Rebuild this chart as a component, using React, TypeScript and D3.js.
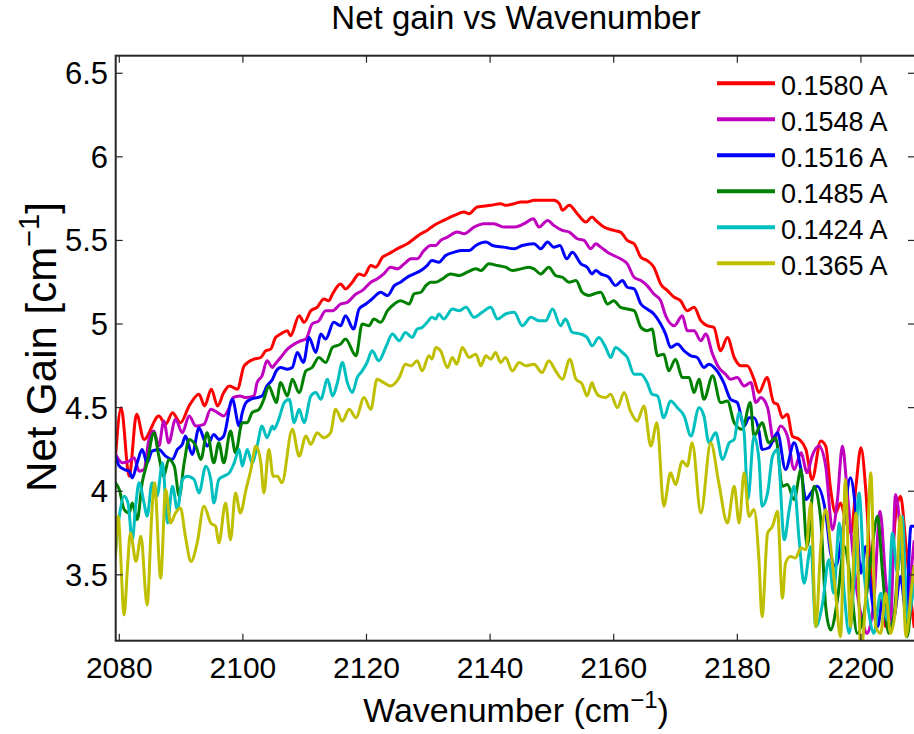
import React from 'react';
import * as d3 from 'd3';

type Pt = [number, number];

const xTicks = [2080, 2100, 2120, 2140, 2160, 2180, 2200];
const yTicks = [3.5, 4, 4.5, 5, 5.5, 6, 6.5];
const yTickLabels = ['3.5', '4', '4.5', '5', '5.5', '6', '6.5'];
const seriesLabels = ['0.1580 A', '0.1548 A', '0.1516 A', '0.1485 A', '0.1424 A', '0.1365 A'];
const seriesColors = ['#ff0000', '#bf00bf', '#0000ff', '#008000', '#00bfbf', '#bfbf00'];

const s1580: Pt[] = [
  [2079.4,4.21],[2080.3,4.50],[2081.6,4.09],[2082.8,4.46],[2084.0,4.31],[2086.4,4.45],[2087.5,4.40],[2088.6,4.47],[2089.9,4.41],[2091.3,4.51],[2092.9,4.58],[2093.8,4.51],[2094.9,4.61],[2095.9,4.51],[2096.9,4.59],[2097.8,4.63],[2099.1,4.61],[2100.2,4.75],[2101.8,4.79],[2102.9,4.80],[2103.7,4.84],[2104.5,4.85],[2105.3,4.92],[2106.1,4.94],[2107.2,4.96],[2107.7,4.93],[2109.1,5.05],[2109.9,5.01],[2111.0,5.08],[2112.0,5.10],[2113.1,5.15],[2113.9,5.14],[2114.5,5.18],[2115.8,5.24],[2116.6,5.21],[2117.7,5.25],[2118.8,5.30],[2119.6,5.29],[2120.7,5.35],[2121.5,5.34],[2122.6,5.40],[2123.6,5.42],[2124.5,5.44],[2125.5,5.46],[2126.6,5.48],[2127.7,5.51],[2128.8,5.54],[2129.8,5.56],[2130.9,5.59],[2132.5,5.62],[2134.2,5.65],[2135.8,5.67],[2136.6,5.66],[2137.9,5.70],[2140.1,5.71],[2141.7,5.72],[2142.5,5.71],[2143.9,5.72],[2145.0,5.73],[2146.0,5.73],[2147.1,5.74],[2148.7,5.74],[2150.3,5.74],[2151.2,5.72],[2151.7,5.68],[2152.8,5.71],[2154.1,5.66],[2155.5,5.61],[2156.5,5.64],[2157.1,5.62],[2158.4,5.58],[2160.0,5.56],[2161.1,5.55],[2162.2,5.50],[2163.3,5.48],[2164.4,5.40],[2165.4,5.38],[2166.5,5.34],[2167.6,5.24],[2168.7,5.20],[2169.8,5.16],[2170.8,5.14],[2171.9,5.08],[2173.0,5.10],[2174.1,5.02],[2175.1,4.99],[2176.2,4.98],[2177.3,4.84],[2178.4,4.92],[2179.5,4.80],[2180.6,4.75],[2181.6,4.75],[2182.7,4.67],[2183.5,4.59],[2184.8,4.68],[2185.9,4.53],[2186.5,4.52],[2187.3,4.44],[2188.1,4.46],[2188.9,4.33],[2190.0,4.31],[2191.1,4.25],[2192.1,4.07],[2193.5,4.30],[2194.3,4.27],[2195.1,4.01],[2195.9,3.87],[2196.7,3.93],[2197.5,3.83],[2198.4,3.75],[2199.2,4.03],[2200.0,4.26],[2200.8,4.00],[2201.6,3.51],[2202.4,3.27],[2203.2,3.35],[2204.0,3.19],[2204.8,3.39],[2205.6,3.85],[2206.4,3.97],[2207.3,3.67],[2208.1,3.35],[2208.6,3.19]
];

const s1548: Pt[] = [
  [2079.4,4.22],[2080.5,4.17],[2081.6,4.18],[2082.4,4.20],[2083.2,4.12],[2084.0,4.13],[2084.8,4.31],[2085.6,4.36],[2086.4,4.27],[2087.2,4.42],[2088.0,4.29],[2089.1,4.43],[2090.2,4.35],[2091.3,4.45],[2092.4,4.39],[2093.7,4.40],[2094.8,4.49],[2095.9,4.47],[2096.9,4.45],[2097.8,4.50],[2098.4,4.56],[2099.5,4.57],[2100.5,4.56],[2101.8,4.57],[2102.3,4.65],[2103.1,4.69],[2103.9,4.78],[2104.8,4.74],[2105.0,4.75],[2106.1,4.80],[2107.2,4.85],[2108.3,4.88],[2109.4,4.90],[2110.2,4.91],[2111.2,5.00],[2112.3,5.02],[2113.4,5.08],[2114.5,5.08],[2115.8,5.12],[2116.9,5.13],[2118.3,5.18],[2119.3,5.20],[2120.7,5.25],[2121.7,5.27],[2122.8,5.30],[2123.9,5.34],[2125.0,5.33],[2126.1,5.36],[2127.2,5.39],[2128.2,5.39],[2129.3,5.44],[2130.4,5.47],[2131.2,5.47],[2132.0,5.50],[2133.1,5.52],[2134.7,5.55],[2135.8,5.54],[2137.4,5.58],[2139.0,5.60],[2140.6,5.60],[2142.2,5.58],[2143.9,5.58],[2145.5,5.60],[2147.0,5.63],[2147.9,5.58],[2149.3,5.62],[2150.3,5.59],[2151.7,5.56],[2152.8,5.55],[2154.1,5.51],[2155.2,5.50],[2156.3,5.45],[2157.1,5.48],[2157.9,5.46],[2159.0,5.43],[2160.0,5.41],[2161.1,5.39],[2162.2,5.36],[2163.3,5.28],[2164.4,5.26],[2165.4,5.23],[2166.5,5.18],[2167.6,5.14],[2168.4,5.05],[2169.8,4.99],[2171.1,5.05],[2171.9,4.96],[2173.0,4.96],[2174.1,4.90],[2174.9,4.94],[2176.0,4.82],[2177.0,4.74],[2178.1,4.70],[2178.9,4.67],[2180.0,4.68],[2181.1,4.63],[2182.2,4.65],[2183.0,4.53],[2183.8,4.56],[2184.9,4.50],[2185.9,4.30],[2187.0,4.39],[2188.1,4.33],[2189.2,4.13],[2190.3,4.23],[2191.3,4.11],[2192.1,4.21],[2193.2,4.27],[2194.3,4.15],[2195.4,3.77],[2196.2,3.95],[2197.0,4.27],[2197.8,3.99],[2198.6,3.67],[2199.4,3.39],[2200.2,3.23],[2201.0,3.15],[2202.1,3.35],[2203.1,3.88],[2204.0,3.47],[2204.8,3.23],[2205.6,3.98],[2206.4,3.75],[2207.3,3.27],[2208.1,3.51],[2208.6,3.70]
];

const s1516: Pt[] = [
  [2079.4,4.21],[2080.0,4.15],[2080.8,4.13],[2081.6,4.12],[2082.1,4.08],[2082.9,4.17],[2083.7,4.25],[2084.5,4.17],[2085.3,4.24],[2086.4,4.25],[2087.5,4.21],[2088.6,4.19],[2089.4,4.25],[2090.2,4.28],[2090.7,4.33],[2091.8,4.22],[2092.9,4.38],[2093.7,4.31],[2094.2,4.27],[2095.3,4.34],[2096.1,4.31],[2096.9,4.33],[2098.3,4.55],[2099.4,4.39],[2099.9,4.47],[2100.5,4.53],[2101.3,4.55],[2102.3,4.56],[2103.1,4.57],[2103.9,4.63],[2104.8,4.67],[2105.4,4.72],[2106.1,4.74],[2107.2,4.73],[2108.0,4.74],[2108.8,4.83],[2109.8,4.77],[2110.7,4.92],[2111.8,4.83],[2112.6,4.94],[2113.4,4.91],[2114.7,5.01],[2115.8,4.99],[2116.6,5.05],[2117.9,4.97],[2118.8,5.09],[2119.9,5.12],[2120.9,5.15],[2122.3,5.19],[2123.4,5.17],[2124.5,5.23],[2125.5,5.25],[2126.6,5.28],[2127.7,5.30],[2128.8,5.32],[2129.8,5.35],[2130.6,5.38],[2131.7,5.37],[2132.8,5.41],[2134.2,5.43],[2135.5,5.44],[2136.6,5.44],[2137.7,5.47],[2139.3,5.49],[2140.4,5.47],[2142.2,5.46],[2143.9,5.45],[2145.2,5.47],[2147.1,5.48],[2148.2,5.45],[2149.3,5.49],[2150.3,5.46],[2151.3,5.47],[2152.4,5.39],[2153.3,5.43],[2154.7,5.36],[2155.7,5.34],[2156.5,5.30],[2157.1,5.32],[2157.9,5.30],[2159.2,5.28],[2160.3,5.23],[2161.4,5.26],[2162.2,5.22],[2163.3,5.21],[2164.4,5.12],[2165.4,5.09],[2166.5,5.06],[2167.6,5.00],[2168.4,4.94],[2169.2,4.86],[2170.3,4.88],[2171.4,4.84],[2172.5,4.81],[2173.5,4.80],[2174.6,4.74],[2175.4,4.76],[2176.5,4.73],[2177.8,4.65],[2178.9,4.55],[2180.0,4.53],[2181.1,4.39],[2181.9,4.44],[2182.7,4.44],[2183.5,4.36],[2184.0,4.25],[2185.1,4.26],[2186.5,4.35],[2187.8,4.13],[2189.2,4.29],[2190.3,4.13],[2191.1,3.95],[2191.9,3.99],[2192.9,4.03],[2194.3,3.87],[2195.1,3.63],[2195.9,3.55],[2197.0,3.75],[2198.3,4.08],[2199.2,3.87],[2200.0,3.51],[2200.8,3.67],[2201.8,3.35],[2202.7,3.19],[2203.5,3.35],[2204.3,3.19],[2205.4,3.25],[2206.4,3.49],[2207.3,3.27],[2208.1,3.79],[2208.6,3.79]
];

const s1485: Pt[] = [
  [2079.4,4.05],[2080.0,4.01],[2080.8,3.89],[2081.6,3.87],[2082.1,3.93],[2082.9,3.83],[2083.7,4.05],[2084.5,4.17],[2085.6,4.35],[2086.4,4.21],[2087.2,4.09],[2088.0,4.19],[2088.9,4.15],[2089.7,3.97],[2090.5,4.17],[2091.3,4.31],[2092.4,4.27],[2093.2,4.19],[2094.2,4.35],[2095.3,4.17],[2096.1,4.29],[2096.9,4.17],[2098.0,4.36],[2098.8,4.23],[2099.9,4.41],[2100.7,4.41],[2101.5,4.47],[2102.6,4.49],[2103.4,4.55],[2104.2,4.63],[2104.9,4.57],[2105.4,4.53],[2106.1,4.65],[2107.2,4.57],[2108.0,4.67],[2109.1,4.59],[2110.2,4.72],[2111.2,4.74],[2112.3,4.80],[2113.4,4.77],[2114.5,4.86],[2115.8,4.88],[2116.6,4.91],[2118.3,4.81],[2119.3,5.00],[2120.4,4.99],[2121.2,5.03],[2122.3,5.01],[2123.4,5.08],[2124.5,5.12],[2125.5,5.14],[2126.9,5.12],[2127.7,5.18],[2128.8,5.19],[2129.6,5.23],[2130.4,5.25],[2131.2,5.25],[2132.3,5.27],[2133.6,5.30],[2135.0,5.29],[2136.3,5.31],[2137.7,5.33],[2138.5,5.32],[2139.8,5.36],[2141.2,5.35],[2142.5,5.34],[2143.6,5.32],[2145.0,5.33],[2146.3,5.34],[2147.1,5.33],[2148.2,5.30],[2149.5,5.34],[2150.6,5.29],[2151.7,5.28],[2152.8,5.25],[2153.9,5.26],[2154.9,5.19],[2156.0,5.17],[2156.8,5.18],[2157.9,5.19],[2159.0,5.12],[2160.0,5.14],[2161.1,5.10],[2162.2,5.09],[2163.3,5.08],[2164.4,4.98],[2165.4,4.96],[2166.2,4.97],[2167.1,4.81],[2168.1,4.82],[2168.9,4.72],[2170.0,4.79],[2171.1,4.68],[2172.2,4.68],[2173.0,4.59],[2173.8,4.67],[2174.6,4.55],[2176.0,4.69],[2177.3,4.53],[2178.4,4.54],[2179.5,4.41],[2180.8,4.37],[2182.1,4.53],[2182.7,4.33],[2184.0,4.41],[2185.1,4.29],[2186.2,4.32],[2187.3,4.03],[2188.1,4.04],[2189.2,3.95],[2190.3,4.13],[2191.3,3.67],[2192.4,4.03],[2193.5,3.83],[2194.3,3.31],[2195.1,3.17],[2196.2,3.35],[2197.3,3.67],[2198.3,3.47],[2199.4,3.15],[2200.5,3.27],[2201.6,3.59],[2202.7,3.85],[2203.5,3.51],[2204.5,3.15],[2205.4,3.27],[2206.4,3.67],[2207.5,3.13],[2208.4,3.49],[2208.6,3.55]
];

const s1424: Pt[] = [
  [2079.4,3.64],[2080.0,3.85],[2080.8,3.97],[2081.4,3.93],[2082.1,3.71],[2082.7,3.93],[2083.2,4.05],[2084.0,3.93],[2084.5,3.85],[2085.3,4.05],[2086.1,3.97],[2087.0,4.17],[2087.8,3.81],[2088.6,4.03],[2089.4,3.89],[2090.2,4.07],[2091.0,4.09],[2092.1,4.07],[2092.9,3.99],[2094.0,4.15],[2094.8,4.07],[2095.3,3.93],[2096.1,4.07],[2096.9,4.09],[2097.8,4.11],[2098.6,4.17],[2099.4,4.25],[2099.9,4.15],[2100.7,4.25],[2101.5,4.17],[2102.3,4.27],[2103.1,4.39],[2103.9,4.32],[2104.8,4.39],[2105.0,4.37],[2105.8,4.43],[2106.7,4.53],[2107.5,4.55],[2108.3,4.41],[2109.1,4.49],[2109.9,4.41],[2111.0,4.57],[2111.8,4.59],[2112.6,4.55],[2113.7,4.67],[2114.5,4.57],[2115.3,4.65],[2116.1,4.77],[2116.9,4.65],[2117.7,4.59],[2118.5,4.68],[2119.3,4.72],[2120.1,4.77],[2120.9,4.84],[2122.0,4.78],[2123.1,4.86],[2124.2,4.94],[2125.3,4.90],[2126.3,4.95],[2127.4,4.92],[2128.2,4.97],[2129.0,4.98],[2129.8,5.01],[2130.6,5.04],[2131.2,5.03],[2131.7,5.06],[2132.5,5.03],[2133.9,5.09],[2135.0,5.08],[2136.1,5.10],[2137.4,5.04],[2138.7,5.07],[2140.1,5.10],[2141.2,5.03],[2142.5,5.06],[2143.9,5.07],[2145.2,4.99],[2146.6,5.04],[2147.9,5.02],[2149.0,5.02],[2150.1,5.09],[2151.4,4.99],[2152.2,5.03],[2153.3,4.95],[2154.7,4.94],[2155.7,4.92],[2156.5,4.87],[2157.6,4.92],[2158.7,4.86],[2159.5,4.80],[2160.3,4.86],[2161.4,4.83],[2162.2,4.80],[2163.3,4.70],[2164.4,4.70],[2165.4,4.65],[2166.2,4.58],[2167.1,4.57],[2168.1,4.44],[2169.2,4.54],[2170.3,4.50],[2171.4,4.45],[2172.5,4.33],[2173.8,4.50],[2174.6,4.45],[2175.4,4.29],[2176.5,4.35],[2177.6,4.19],[2178.7,4.29],[2179.5,4.31],[2180.3,4.47],[2181.1,4.35],[2181.7,3.95],[2182.7,4.33],[2183.5,4.19],[2184.0,3.91],[2184.9,3.99],[2185.7,4.21],[2186.5,4.25],[2187.6,3.71],[2188.4,3.89],[2189.2,4.03],[2190.0,3.71],[2190.8,3.45],[2191.9,3.67],[2192.7,3.19],[2193.8,3.33],[2194.8,3.59],[2195.6,3.39],[2196.5,3.81],[2197.3,3.39],[2198.1,3.15],[2198.9,3.47],[2199.7,3.99],[2200.5,3.51],[2201.3,3.27],[2202.1,3.15],[2203.2,3.39],[2204.3,3.23],[2205.1,3.75],[2205.9,3.51],[2206.7,3.85],[2207.5,3.23],[2208.4,3.39],[2208.6,3.45]
];

const s1365: Pt[] = [
  [2079.4,3.61],[2079.8,3.85],[2080.8,3.26],[2081.3,3.53],[2081.8,3.75],[2082.7,3.58],[2083.5,3.73],[2084.5,3.32],[2085.3,3.89],[2085.7,4.05],[2086.7,3.48],[2087.5,4.01],[2088.3,3.81],[2089.1,3.87],[2089.9,3.90],[2090.7,3.73],[2091.6,3.58],[2092.6,3.69],[2093.7,3.91],[2094.8,3.81],[2095.6,3.79],[2096.1,3.69],[2097.2,3.93],[2098.0,3.71],[2098.8,3.99],[2099.6,3.87],[2100.5,4.01],[2101.3,4.13],[2102.1,4.27],[2102.9,4.17],[2103.4,3.99],[2104.2,4.25],[2104.9,4.09],[2105.6,4.09],[2106.3,4.05],[2108.0,4.37],[2109.1,4.21],[2110.2,4.33],[2111.0,4.28],[2112.0,4.35],[2113.1,4.32],[2114.2,4.35],[2115.0,4.49],[2116.1,4.42],[2117.2,4.49],[2118.3,4.44],[2119.6,4.56],[2120.7,4.49],[2121.7,4.67],[2122.8,4.65],[2123.9,4.63],[2125.3,4.68],[2126.3,4.76],[2127.2,4.75],[2128.2,4.78],[2129.0,4.72],[2130.1,4.81],[2130.6,4.79],[2131.2,4.86],[2132.0,4.84],[2133.1,4.74],[2133.9,4.80],[2134.6,4.76],[2135.5,4.86],[2136.6,4.80],[2137.7,4.82],[2138.5,4.75],[2139.3,4.81],[2140.1,4.79],[2140.9,4.83],[2141.7,4.77],[2142.5,4.80],[2143.6,4.72],[2144.7,4.77],[2145.8,4.75],[2147.1,4.76],[2148.4,4.71],[2149.5,4.78],[2150.6,4.72],[2151.7,4.67],[2152.9,4.79],[2153.9,4.67],[2154.9,4.64],[2155.7,4.57],[2156.5,4.65],[2156.8,4.62],[2157.6,4.57],[2158.7,4.56],[2159.5,4.58],[2160.6,4.50],[2161.7,4.59],[2162.7,4.48],[2163.8,4.42],[2164.9,4.51],[2166.0,4.27],[2167.0,4.41],[2168.1,3.91],[2169.2,4.11],[2170.0,4.04],[2171.1,4.18],[2171.9,4.15],[2172.7,4.29],[2174.1,3.87],[2175.7,4.29],[2177.0,4.05],[2178.4,3.81],[2179.5,4.03],[2180.3,3.81],[2181.1,4.11],[2181.9,3.85],[2182.7,3.89],[2183.5,3.59],[2184.0,3.25],[2184.9,3.75],[2185.7,3.79],[2186.5,3.88],[2187.3,3.36],[2187.8,3.57],[2188.6,3.61],[2189.4,3.60],[2190.3,3.66],[2191.1,3.65],[2191.9,3.93],[2192.7,3.19],[2193.5,3.67],[2194.3,3.89],[2195.1,3.67],[2195.9,3.39],[2196.7,3.13],[2197.5,4.07],[2198.3,3.19],[2199.2,3.87],[2200.0,3.05],[2200.8,3.39],[2201.6,4.11],[2202.4,3.19],[2203.2,3.15],[2204.0,3.39],[2204.8,3.15],[2205.6,3.30],[2206.4,3.85],[2207.3,3.13],[2208.1,3.39],[2208.6,3.55]
];

const allSeries: Pt[][] = [s1580, s1548, s1516, s1485, s1424, s1365];

const W = 914;
const H = 734;
const PL = 115.7;
const PR = 915;
const PT = 55.7;
const PB = 640.7;
const FONT = '"Liberation Sans", Arial, Helvetica, sans-serif';

export default function App() {
  const x = d3.scaleLinear().domain([2079.42, 2208.75]).range([PL, PR]);
  const y = d3.scaleLinear().domain([3.106, 6.605]).range([PB, PT]);
  const line = d3
    .line<Pt>()
    .x((d) => x(d[0]))
    .y((d) => y(d[1]))
    .curve(d3.curveMonotoneX);
  const tickLen = 7;
  const axisColor = '#262626';

  return (
    <svg
      width={W}
      height={H}
      style={{ position: 'absolute', left: 0, top: 0, background: '#fff' }}
      fontFamily={FONT}
    >
      <rect x={0} y={0} width={W} height={H} fill="#fff" />
      <defs>
        <clipPath id="plotClip">
          <rect x={PL} y={PT} width={PR - PL} height={PB - PT} />
        </clipPath>
      </defs>
      <g clipPath="url(#plotClip)">
        {allSeries.map((s, i) => (
          <path
            key={i}
            d={line(s) || ''}
            fill="none"
            stroke={seriesColors[i]}
            strokeWidth={3}
            strokeLinejoin="round"
            strokeLinecap="round"
          />
        ))}
      </g>
      <g stroke={axisColor} strokeWidth={1.2}>
        {xTicks.map((t) => (
          <g key={'xt' + t}>
            <line x1={x(t)} x2={x(t)} y1={PB} y2={PB - tickLen} />
            <line x1={x(t)} x2={x(t)} y1={PT} y2={PT + tickLen} />
          </g>
        ))}
        {yTicks.map((t) => (
          <g key={'yt' + t}>
            <line x1={PL} x2={PL + tickLen} y1={y(t)} y2={y(t)} />
            <line x1={PR} x2={PR - tickLen} y1={y(t)} y2={y(t)} />
          </g>
        ))}
      </g>
      <rect x={PL} y={PT} width={PR - PL} height={PB - PT} fill="none" stroke={axisColor} strokeWidth={2} />
      <g fontSize={30} fill="#000">
        {xTicks.map((t) => (
          <text key={'xl' + t} x={x(t)} y={678} textAnchor="middle">
            {t}
          </text>
        ))}
        {yTicks.map((t, i) => (
          <text key={'yl' + t} x={108} y={y(t) + 11} textAnchor="end" fontSize={31}>
            {yTickLabels[i]}
          </text>
        ))}
      </g>
      <text x={516} y={29} textAnchor="middle" fontSize={33} fill="#000">
        Net gain vs Wavenumber
      </text>
      <text x={516} y={722} textAnchor="middle" fontSize={34} fill="#000">
        Wavenumber (cm
        <tspan fontSize={24} dy={-14}>−1</tspan>
        <tspan dy={14}>)</tspan>
      </text>
      <text
        transform={`translate(56, 347) rotate(-90)`}
        textAnchor="middle"
        fontSize={42}
        fill="#000"
      >
        Net Gain [cm
        <tspan fontSize={29} dy={-17}>−1</tspan>
        <tspan dy={17}>]</tspan>
      </text>
      <g>
        {seriesLabels.map((lab, i) => {
          const ly = 83.3 + i * 36;
          return (
            <g key={lab}>
              <line x1={717} x2={775} y1={ly} y2={ly} stroke={seriesColors[i]} strokeWidth={4} />
              <text x={781} y={ly + 11.5} fontSize={27} fill="#000">
                {lab}
              </text>
            </g>
          );
        })}
      </g>
    </svg>
  );
}
